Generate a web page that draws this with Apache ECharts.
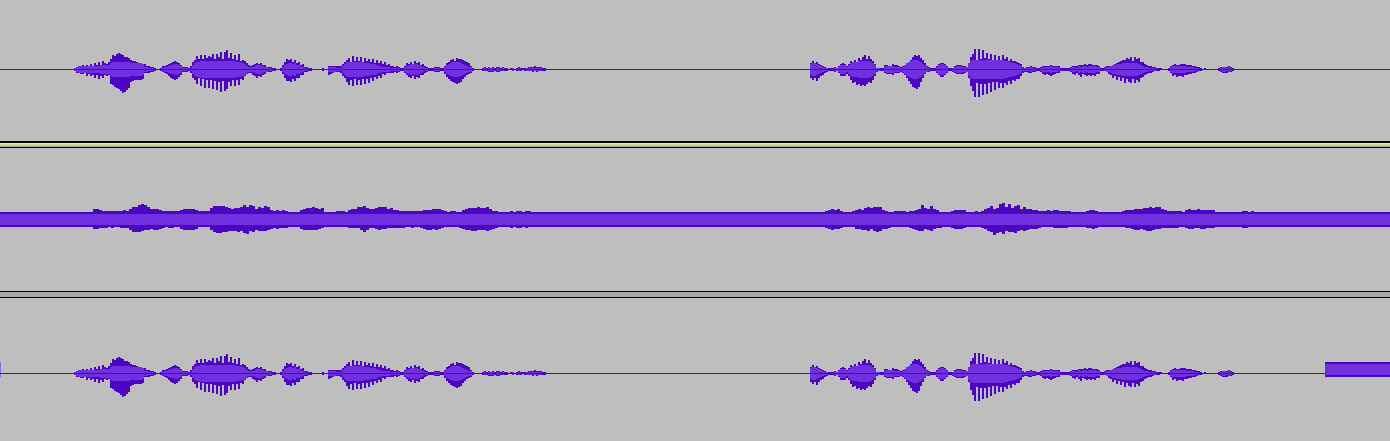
<!DOCTYPE html>
<html><head><meta charset="utf-8">
<style>html,body{margin:0;padding:0;background:#bebebe}#c{width:1390px;height:441px}</style>
<script src="https://cdn.jsdelivr.net/npm/echarts@6/dist/echarts.min.js"></script>
</head><body><div id="c"></div>
<script>
// Waveform envelopes, in pixels of amplitude. Ten columns per line.
const stepWave = 2;
const startA = 70;
const peakUpA = [
0,0,1,2,3,3,4,3,4,3,
5,3,6,4,7,4,8,6,5,7,
10,14,13,15,16,15,14,12,12,11,
9,8,8,7,6,5,5,5,3,3,
2,2,1,0,0,1,3,3,4,5,
6,7,8,7,6,4,2,2,2,1,
3,7,9,13,10,14,10,14,11,13,
12,15,10,15,12,17,10,17,19,11,
16,10,14,9,15,8,9,8,6,4,
3,4,5,6,5,6,4,4,2,2,
2,1,1,0,0,1,4,7,10,9,
10,7,9,6,7,4,5,2,2,1,
1,0,0,0,0,0,1,0,0,3,
3,3,3,3,3,3,5,7,9,11,
7,13,8,12,8,12,7,11,8,10,
7,10,6,9,6,8,5,7,4,5,
3,3,2,3,2,1,1,3,6,5,
7,5,8,6,7,4,5,3,2,1,
1,1,2,2,2,1,1,3,6,7,
9,10,8,11,10,10,9,8,7,6,
3,1,0,0,0,0,1,2,1,2,
1,2,1,2,2,1,2,1,1,0,
1,1,0,1,2,1,1,1,1,2,
2,2,3,2,2,2,1,1,0,0];
const peakDownA = [
0,0,1,3,3,4,4,3,6,4,
6,5,8,5,9,6,8,5,6,5,
14,15,17,18,19,21,23,22,20,18,
12,11,10,10,10,10,9,3,3,3,
2,2,1,0,0,1,2,3,4,6,
8,9,10,9,7,5,2,2,2,1,
3,8,10,14,8,16,9,18,10,18,
10,19,11,20,12,22,11,21,19,12,
16,10,16,10,15,9,10,6,4,3,
3,5,6,8,6,7,5,4,2,2,
2,1,1,0,0,1,4,8,11,11,
12,9,11,8,8,5,5,2,2,1,
1,0,0,0,0,0,1,0,0,5,
4,3,2,2,2,3,6,8,12,15,
10,16,9,15,10,15,9,14,9,13,
8,11,7,9,6,8,4,5,3,3,
3,3,2,3,2,1,1,3,5,7,
8,6,9,7,8,5,5,3,2,1,
1,1,2,2,2,1,1,4,7,9,
11,12,13,14,13,12,9,7,5,4,
3,1,0,0,0,0,1,1,1,2,
2,2,1,2,2,1,1,1,1,0,
0,1,0,1,1,1,0,1,1,1,
1,2,1,2,1,1,1,1,0,0];
const rmsA = [
0,0,1,2,3,3,3,3,3,3,
3,3,3,3,3,4,4,4,4,4,
6,7,7,7,7,7,7,7,7,7,
6,6,6,6,6,6,5,2,2,1,
1,1,0,0,0,0,1,2,2,3,
4,4,5,5,4,3,1,1,1,0,
1,4,6,7,7,8,8,8,8,8,
8,8,8,8,8,8,8,8,8,8,
8,8,8,7,7,7,6,5,3,2,
2,2,3,4,4,4,3,2,2,1,
1,0,0,0,0,0,2,4,5,6,
6,5,6,4,4,3,2,1,1,0,
0,0,0,0,0,0,0,0,0,2,
2,2,2,1,1,1,3,5,7,7,
7,7,7,7,7,7,7,6,6,6,
5,5,5,4,3,3,2,2,2,2,
1,1,1,1,1,0,0,2,3,4,
5,5,5,5,4,3,2,1,1,0,
0,0,1,1,1,0,0,2,4,5,
6,7,7,7,7,6,5,4,3,2,
2,0,0,0,0,0,0,1,0,1,
1,1,0,1,1,0,1,0,0,0,
0,1,0,0,1,0,0,0,1,1,
1,1,1,1,1,1,0,0,0,0];
const startB = 810;
const peakUpB = [
6,8,6,7,5,4,3,2,1,1,
1,1,2,1,3,5,6,5,3,5,
8,7,9,7,11,9,12,14,10,13,
10,8,5,1,1,1,1,4,4,3,
3,5,4,4,3,2,3,4,5,6,
9,12,14,13,14,11,9,6,3,2,
1,1,1,3,5,6,6,5,3,1,
1,1,3,4,4,4,3,3,2,6,
12,15,20,9,20,10,19,11,16,10,
15,8,14,8,13,9,14,10,12,8,
10,8,8,7,6,5,2,1,2,2,
3,2,2,1,1,2,3,3,3,3,
4,3,3,3,3,1,1,1,1,1,
2,3,3,3,4,4,4,5,4,5,
5,4,4,4,3,1,1,2,3,3,
3,3,5,6,7,8,9,9,11,10,
12,8,12,10,11,7,7,5,4,3,
3,2,2,1,1,1,0,0,0,1,
3,4,5,4,4,5,5,5,4,4,
4,3,3,2,2,1,0,1,0,0,
0,0,0,0,1,2,2,2,2,3,
2,1,0,0,0,0,0,0,0,0];
const peakDownB = [
8,10,8,11,8,6,5,3,2,1,
1,1,2,1,3,6,6,6,4,6,
10,13,12,15,14,16,15,16,14,12,
13,10,6,2,1,1,1,3,4,4,
4,5,3,3,3,2,3,5,8,11,
14,17,18,19,17,12,8,4,2,2,
1,1,1,3,5,7,7,5,3,1,
1,2,3,4,4,4,4,3,2,8,
16,21,27,13,27,14,25,14,24,13,
22,12,20,12,18,13,18,13,15,11,
14,10,11,9,9,6,3,2,2,3,
3,2,2,1,1,2,4,5,4,5,
6,5,4,3,3,1,1,1,1,1,
2,4,5,3,5,7,4,5,6,5,
6,5,6,4,4,1,1,1,2,4,
5,8,6,10,7,11,8,13,9,12,
13,9,13,10,12,8,7,5,4,3,
3,2,1,1,1,0,0,0,0,1,
3,6,5,7,6,6,7,5,5,4,
4,3,3,2,1,1,0,0,0,0,
0,0,0,0,1,2,3,3,3,2,
2,1,0,0,0,0,0,0,0,0];
const rmsB = [
5,6,6,5,4,3,2,1,1,0,
0,0,1,1,2,4,4,4,2,4,
6,7,7,7,8,8,8,8,8,8,
7,6,4,1,1,0,0,2,3,3,
3,3,2,2,2,1,2,4,6,7,
8,9,9,9,8,7,5,3,2,1,
0,0,0,2,4,5,5,4,2,0,
0,1,2,3,3,3,2,2,2,6,
8,9,9,9,9,9,9,9,9,9,
9,9,9,9,9,9,9,8,8,7,
7,6,6,5,4,3,1,1,1,1,
2,1,1,0,0,1,2,2,2,2,
3,2,2,2,1,0,0,0,0,0,
1,2,2,1,3,2,3,3,2,3,
3,3,3,2,2,0,0,1,2,2,
3,4,4,5,5,5,6,6,6,6,
6,6,6,6,5,4,3,2,2,1,
1,1,1,0,0,0,0,0,0,0,
2,3,3,3,3,3,3,3,2,2,
2,2,1,1,0,0,0,0,0,0,
0,0,0,0,0,1,2,2,1,2,
1,0,0,0,0,0,0,0,0,0];

// Middle track: a constant band with peaks rising out of it.
const bandOuter = 7.5;
const bandInner = 5.5;
const stepMid = 3;
const midStartA = 90;
const midOverUpA = [
0,3,3,2,1,1,1,1,1,1,
1,2,1,3,5,5,7,8,7,5,
3,3,3,2,1,1,1,1,1,1,
2,3,3,3,3,2,1,1,1,1,
4,6,6,6,6,5,4,3,4,4,
5,7,5,7,6,3,5,4,6,5,
2,1,2,1,2,1,0,0,0,0,
2,3,4,4,5,4,3,4,0,0,
0,0,1,1,1,0,2,3,3,5,
5,6,4,3,3,4,5,5,5,3,
4,2,2,1,1,1,1,1,1,1,
1,2,2,2,3,3,3,2,1,0,
1,1,0,0,2,3,4,4,4,5,
4,4,5,3,1,1,0,0,0,0,
1,0,1,1,0,1,1,0,0,0];
const midOverDownA = [
0,2,2,1,1,1,0,1,0,0,
1,1,1,3,5,5,5,4,3,3,
2,3,3,2,1,0,1,1,0,0,
2,3,3,3,3,2,0,0,0,0,
3,5,6,6,5,5,4,4,4,5,
4,6,7,4,5,3,4,4,4,3,
2,1,2,1,1,1,0,0,0,0,
2,3,3,3,3,3,2,1,0,0,
0,0,0,0,0,0,1,1,1,1,
3,5,3,1,1,2,3,2,2,1,
1,1,1,1,1,0,0,1,0,0,
1,2,3,3,2,3,2,1,0,0,
0,0,0,1,2,3,3,4,4,3,
3,3,4,3,2,1,0,0,0,0,
1,0,1,1,0,1,0,0,0,0];
const midStartB = 825;
const midOverUpB = [
1,2,3,2,3,1,0,0,0,1,
2,3,2,4,5,4,5,5,5,2,
1,0,0,1,1,1,1,0,1,1,
2,3,7,4,3,6,3,2,0,0,
0,0,1,2,2,2,2,0,0,0,
1,0,1,3,4,6,3,4,8,9,
5,8,4,6,7,3,5,3,3,2,
2,1,1,1,2,1,2,2,1,1,
1,1,0,0,0,0,0,1,2,2,
1,0,0,0,0,0,0,0,0,1,
2,2,2,3,3,3,4,4,5,4,
5,5,3,2,1,1,1,1,1,0,
2,3,2,2,3,2,2,2,2,2,
0,0,0,0,0,0,0,0,0,1,
1,0,1,0,0,0,0,0,0,0];
const midOverDownB = [
1,2,3,2,2,1,0,0,0,0,
2,2,3,3,4,2,4,5,4,2,
2,1,0,0,0,0,0,0,1,2,
3,4,4,2,3,4,2,1,1,0,
0,0,1,2,2,2,1,0,0,0,
0,0,1,2,4,5,8,6,5,7,
4,5,5,6,4,3,4,3,2,2,
2,1,0,0,0,0,1,1,1,1,
1,0,0,0,0,0,0,1,1,2,
1,0,0,0,0,0,0,0,0,0,
1,1,2,3,3,2,3,4,4,3,
2,2,1,1,1,1,1,1,0,0,
1,2,2,1,1,2,2,1,1,1,
0,0,0,0,0,0,0,0,0,1,
1,0,0,0,0,0,0,0,0,0];

// Constant stretches on the lower track: start, end, high, low.
const lowBlockX = [1325, 1390];
const lowBlockOuter = [11.5, -3.5];
const lowBlockInner = [9.5, -1.5];
const lowEdgeX = [0, 1];
const lineEnds = [0, 1390];

const BG = '#bebebe', DARK = '#4c05c0', LIGHT = '#7030e0', EDGE = '#9466e6';

const waveRows = (start, step, hi, lo, pad) => hi.map((v, i) => [start + i * step, start + (i + 1) * step, -(lo[i] + pad), v + pad]);
const rmsRows = (start, step, vals) => vals.map((v, i) => v > 0 ? [start + i * step, start + (i + 1) * step, -(v + .5), v + .5] : null).filter(Boolean);

function rects(gridIndex, rows, fill) {
  return {
    type: 'custom', xAxisIndex: gridIndex, yAxisIndex: gridIndex, silent: true, animation: false, clip: true,
    encode: { x: [0, 1], y: [2, 3] }, data: rows,
    renderItem(params, api) {
      const a = api.coord([api.value(0), api.value(3)]);
      const b = api.coord([api.value(1), api.value(2)]);
      return { type: 'rect', shape: { x: a[0], y: a[1], width: b[0] - a[0], height: b[1] - a[1] }, style: { fill } };
    }
  };
}
const baseline = (gridIndex, end) => ({
  type: 'line', xAxisIndex: gridIndex, yAxisIndex: gridIndex, silent: true, animation: false, symbol: 'none',
  data: [[lineEnds[0], 0], [end, 0]], lineStyle: { color: DARK, width: 1 }
});
const peaks = waveRows(startA, stepWave, peakUpA, peakDownA, .5).concat(waveRows(startB, stepWave, peakUpB, peakDownB, .5));
const rms = rmsRows(startA, stepWave, rmsA).concat(rmsRows(startB, stepWave, rmsB));
const midPeaks = waveRows(midStartA, stepMid, midOverUpA, midOverDownA, bandOuter).concat(waveRows(midStartB, stepMid, midOverUpB, midOverDownB, bandOuter));

const grids = [
  { left: 0, width: 1390, top: 0, height: 139, show: false },
  { left: 0, width: 1390, top: 148, height: 143, show: false },
  { left: 0, width: 1390, top: 298, height: 143, show: false }
];
const xAxes = grids.map((g, i) => ({ type: 'value', gridIndex: i, min: 0, max: 1390, show: false }));
const yAxes = [[-69.5, 69.5], [-71.5, 71.5], [-67.5, 75.5]].map((r, i) => ({ type: 'value', gridIndex: i, min: r[0], max: r[1], show: false }));

const bar = (y, h, fill) => ({ type: 'rect', silent: true, shape: { x: 0, y, width: 1390, height: h }, style: { fill } });

const chart = echarts.init(document.getElementById('c'), null, { renderer: 'canvas', width: 1390, height: 441 });
chart.setOption({
  backgroundColor: BG, animation: false, grid: grids, xAxis: xAxes, yAxis: yAxes,
  graphic: [
    bar(141, 2, '#000000'), bar(143, 1, '#f2f29a'), bar(144, 1, '#d8dc90'), bar(145, 1, '#c4c89a'), bar(146, 1, '#a8a8a0'), bar(147, 1, '#000000'),
    bar(291, 1, '#000000'), bar(292, 5, '#a8a8a8'), bar(297, 1, '#000000')
  ],
  series: [
    baseline(0, lineEnds[1]),
    rects(0, peaks, DARK),
    rects(0, rms, LIGHT),
    rects(1, [[lineEnds[0], lineEnds[1], -bandOuter, bandOuter]], DARK),
    rects(1, midPeaks, DARK),
    rects(1, [[lineEnds[0], lineEnds[1], -bandInner, bandInner]], LIGHT),
    baseline(2, lowBlockX[0]),
    rects(2, peaks, DARK),
    rects(2, rms, LIGHT),
    rects(2, [[lowBlockX[0], lowBlockX[1], lowBlockOuter[1], lowBlockOuter[0]]], DARK),
    rects(2, [[lowBlockX[0], lowBlockX[1], lowBlockInner[1], lowBlockInner[0]]], LIGHT),
    rects(2, [[lowEdgeX[0], lowEdgeX[1], lowBlockOuter[1], lowBlockOuter[0]]], EDGE)
  ]
});
</script></body></html>
